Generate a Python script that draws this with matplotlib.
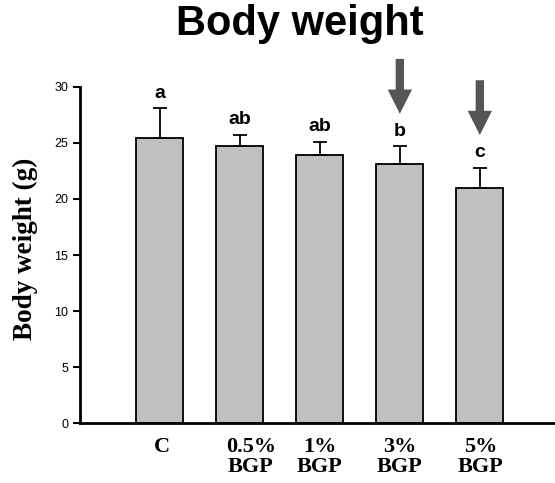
import matplotlib
matplotlib.use("Agg")
import matplotlib.pyplot as plt
import numpy as np

categories = ["C", "0.5%\nBGP", "1%\nBGP", "3%\nBGP", "5%\nBGP"]
means = [25.4, 24.7, 23.9, 23.1, 21.0]
errors = [2.7, 1.0, 1.2, 1.6, 1.8]
letters = ["a", "ab", "ab", "b", "c"]
arrow_groups = [3, 4]

# layout: horizontal pixel nudges of the category labels
label_nudge_px = [2, 11, 0, 0, 1]

fig = plt.figure(figsize=(5.55, 4.83), dpi=100)
ax = fig.add_axes([0.144, 0.124, 0.856, 0.696])
x = np.arange(len(categories))
ax.bar(x, means, width=0.59, color="#c0c0c0", edgecolor="black", linewidth=1.3, zorder=2)
ax.errorbar(x, means, yerr=[np.zeros(len(means)), errors], fmt="none",
            ecolor="black", elinewidth=1.3, capsize=5, capthick=1.3, zorder=3)

for xi, m, e, lab in zip(x, means, errors, letters):
    ax.text(xi, m + e + 0.6, lab, ha="center", va="bottom",
            fontsize=14, fontweight="bold", family="Liberation Sans")

for g in arrow_groups:
    top = means[g] + errors[g] + 7.8
    ax.annotate("", xy=(g, means[g] + errors[g] + 2.9), xytext=(g, top),
                arrowprops=dict(width=6, headwidth=17.5, headlength=17.5, shrink=0,
                                facecolor="#555555", edgecolor="none"),
                annotation_clip=False)

ax.set_xlim(-1, 4.94)
ax.set_ylim(0, 30)
ax.set_yticks([0, 5, 10, 15, 20, 25, 30])
ax.set_xticks(x)
ax.set_xticklabels([])
for xi, cat, dx in zip(x, categories, label_nudge_px):
    ax.annotate(cat, xy=(xi, 0), xycoords=("data", "axes fraction"),
                xytext=(dx, -14), textcoords="offset pixels",
                ha="center", va="top", fontsize=16, fontweight="bold",
                family="Liberation Serif", linespacing=1.0, annotation_clip=False)
ax.tick_params(axis="x", length=0)
ax.tick_params(axis="y", length=5, width=1.5, labelsize=9, direction="out")
for lbl in ax.get_yticklabels():
    lbl.set_family("Liberation Sans")
ax.spines["top"].set_visible(False)
ax.spines["right"].set_visible(False)
ax.spines["left"].set_linewidth(2)
ax.spines["bottom"].set_linewidth(2)
fig.text(25 / 555, 1 - 249 / 483, "Body weight (g)", rotation=90, ha="center", va="center",
         fontsize=19.5, fontweight="bold", family="Liberation Serif")
fig.text(0.54, 0.9275, "Body weight", ha="center", va="baseline", fontsize=30,
         fontweight="bold", family="Liberation Sans")

fig.savefig("out.png", dpi=100)
